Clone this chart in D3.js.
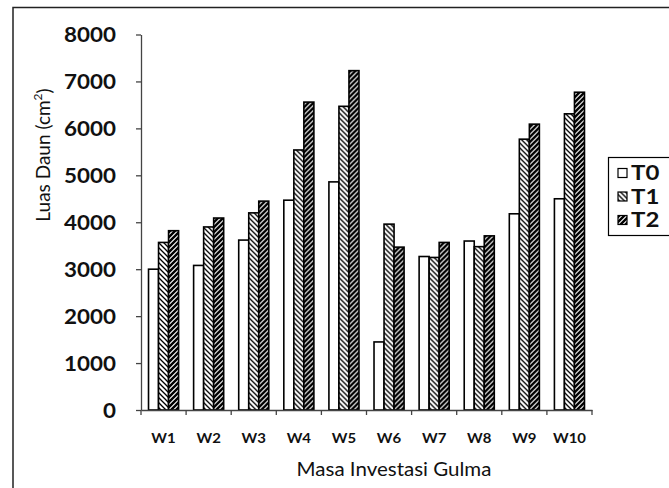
<!DOCTYPE html>
<html>
<head>
<meta charset="utf-8">
<script src="https://cdn.jsdelivr.net/npm/d3@7"></script>
<style>
  html, body { margin: 0; padding: 0; background: #fff; }
  svg { display: block; }
  text { font-family: Lato, "Open Sans", "Liberation Sans", sans-serif; fill: #111; }
</style>
</head>
<body>
<svg id="chart" width="669" height="488"></svg>
<script>
// ---- data ----
const categories = ["W1", "W2", "W3", "W4", "W5", "W6", "W7", "W8", "W9", "W10"];
const seriesNames = ["T0", "T1", "T2"];
const valuesT0 = [3000, 3080, 3620, 4470, 4860, 1450, 3270, 3600, 4180, 4500];
const valuesT1 = [3570, 3900, 4200, 5540, 6470, 3960, 3250, 3480, 5770, 6310];
const valuesT2 = [3820, 4090, 4450, 6560, 7230, 3470, 3570, 3710, 6090, 6770];
const yTicks = [0, 1000, 2000, 3000, 4000, 5000, 6000, 7000, 8000];
const xTitle = "Masa Investasi Gulma";
const yTitle = "Luas Daun (cm";

const seriesValues = { T0: valuesT0, T1: valuesT1, T2: valuesT2 };

const svg = d3.select("#chart");
const defs = svg.append("defs");

// patterns
const p1 = defs.append("pattern").attr("id", "patT1").attr("patternUnits", "userSpaceOnUse")
  .attr("width", 5).attr("height", 5);
p1.append("rect").attr("width", 5).attr("height", 5).attr("fill", "#fff");
p1.append("path").attr("d", "M-1,-1 L6,6 M-1,4 L1,6 M4,-1 L6,1")
  .attr("stroke", "#000").attr("stroke-width", 1.3);

const p2 = defs.append("pattern").attr("id", "patT2").attr("patternUnits", "userSpaceOnUse")
  .attr("width", 5).attr("height", 5);
p2.append("rect").attr("width", 5).attr("height", 5).attr("fill", "#fff");
p2.append("path").attr("d", "M-1,6 L6,-1 M-1,1 L1,-1 M4,6 L6,4")
  .attr("stroke", "#000").attr("stroke-width", 2.4);

const fills = { T0: "#fff", T1: "url(#patT1)", T2: "url(#patT2)" };

// outer border
svg.append("rect").attr("x", 13).attr("y", 7.5).attr("width", 700).attr("height", 600)
  .attr("fill", "none").attr("stroke", "#222").attr("stroke-width", 1.5);

const plotLeft = 141, plotRight = 592, plotTop = 34.5, plotBottom = 410;

const x = d3.scaleBand().domain(categories).range([plotLeft, plotRight]).paddingInner(0).paddingOuter(0);
const x1 = d3.scaleBand().domain(seriesNames).range([x.bandwidth() / 6, x.bandwidth() * 5 / 6]).padding(0);
const y = d3.scaleLinear().domain([0, 8000]).range([plotBottom, plotTop]);

// bars
const groups = svg.append("g").selectAll("g").data(categories).join("g")
  .attr("transform", d => `translate(${x(d)},0)`);
groups.selectAll("rect")
  .data((c, i) => seriesNames.map(s => ({ s, v: seriesValues[s][i] })))
  .join("rect")
  .attr("x", d => x1(d.s))
  .attr("y", d => y(d.v))
  .attr("width", x1.bandwidth())
  .attr("height", d => y(0) - y(d.v))
  .attr("fill", d => fills[d.s])
  .attr("stroke", "#000")
  .attr("stroke-width", 1.6);

// y axis
const yAxis = svg.append("g").attr("transform", `translate(${plotLeft},0)`)
  .call(d3.axisLeft(y).tickValues(yTicks).tickSize(5).tickSizeOuter(0).tickFormat(d3.format("d")));
yAxis.select(".domain").attr("stroke", "#444").attr("stroke-width", 1.3);
yAxis.selectAll(".tick line").attr("stroke", "#444").attr("stroke-width", 1.3);
yAxis.selectAll(".tick text")
  .attr("font-size", 20).attr("font-weight", "bold").attr("fill", "#111")
  .attr("font-family", "Lato, sans-serif")
  .attr("x", 0).attr("dy", "0.35em").attr("text-anchor", "end")
  .attr("transform", "translate(-25,0) scale(1.12,1)");

// x axis
const xAxis = svg.append("g").attr("transform", `translate(0,${plotBottom})`)
  .call(d3.axisBottom(x).tickSize(0).tickSizeOuter(0));
xAxis.select(".domain").attr("stroke", "#444").attr("stroke-width", 1.3);
xAxis.selectAll(".tick text")
  .attr("font-size", 13).attr("font-weight", "bold").attr("fill", "#333")
  .attr("font-family", "Lato, sans-serif")
  .attr("y", 0).attr("dy", "0.35em")
  .attr("transform", "translate(0,28) scale(1.15,1)");
// boundary ticks
const bounds = categories.map(c => x(c)).concat([x.range()[1]]);
xAxis.selectAll(".btick").data(bounds).join("line").attr("class", "btick")
  .attr("x1", d => d).attr("x2", d => d).attr("y1", 0).attr("y2", 5)
  .attr("stroke", "#444").attr("stroke-width", 1.3);

// axis titles
svg.append("text").attr("x", 0).attr("y", 0).attr("dy", "0.35em")
  .attr("text-anchor", "middle").attr("font-size", 19).attr("fill", "#222")
  .attr("transform", "translate(394,469) scale(1.08,1)")
  .text(xTitle);

const yt = svg.append("text").attr("transform", "translate(43,155) rotate(-90)")
  .attr("text-anchor", "middle").attr("dy", "0.35em").attr("font-size", 19).attr("fill", "#222");
yt.append("tspan").text(yTitle);
yt.append("tspan").attr("font-size", 12).attr("dy", "-0.6em").text("2");
yt.append("tspan").attr("dy", "0.45em").text(")");

// legend
const lg = svg.append("g");
lg.append("rect").attr("x", 608.5).attr("y", 157.5).attr("width", 100).attr("height", 78)
  .attr("fill", "#fff").attr("stroke", "#000").attr("stroke-width", 1.2);
const ly = d3.scalePoint().domain(seriesNames).range([173, 220]);
const items = lg.selectAll("g.item").data(seriesNames).join("g").attr("class", "item")
  .attr("transform", d => `translate(0,${ly(d)})`);
items.append("rect").attr("x", 618).attr("y", -4.5).attr("width", 9).attr("height", 9)
  .attr("fill", d => fills[d]).attr("stroke", "#000").attr("stroke-width", 1.2);
items.append("text").attr("x", 0).attr("dy", "0.35em")
  .attr("transform", "translate(631,0) scale(1.2,1)")
  .attr("font-size", 20).attr("font-weight", "bold").attr("fill", "#111")
  .text(d => d);
</script>
</body>
</html>
